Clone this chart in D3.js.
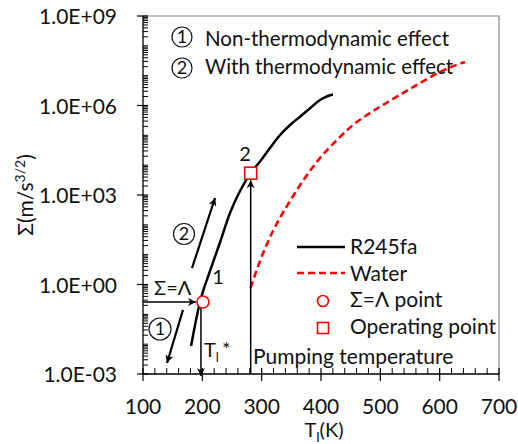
<!DOCTYPE html>
<html>
<head>
<meta charset="utf-8">
<script src="https://cdn.jsdelivr.net/npm/d3@7"></script>
<style>
  html, body { margin: 0; padding: 0; background: #fff; }
  svg text { font-family: Lato, "Open Sans", sans-serif; fill: #111; }
</style>
</head>
<body>
<svg id="chart" width="518" height="444"></svg>
<script>
// Temperature (K) and Σ (m/s^3/2) along each fluid's curve
const r245faT = [181, 196, 213, 230, 246.6, 263.5, 281.5, 297.2, 314, 331, 347.8, 364.6, 381.5, 398.3, 411.8, 420.2];
const r245faS = [8.7e-3, 0.26, 2.84, 26.6, 249, 1360, 5.4e3, 1.33e4, 3.77e4, 1.03e5, 2.22e5, 4.22e5, 8.05e5, 1.53e6, 2.08e6, 2.34e6];
const waterT = [281.2, 297.2, 319.1, 347.8, 373, 398.3, 427, 454, 482.6, 511.2, 538.2, 566.9, 595.5, 617.4, 642.7];
const waterS = [0.764, 6.14, 62.1, 630, 3715, 1.74e4, 6.98e4, 2.22e5, 5.61e5, 1.26e6, 2.62e6, 5.68e6, 1.18e7, 1.88e7, 2.87e7];

// Σ=Λ point and operating point (pumping temperature)
const lambdaPoint = { T: 196, S: 0.26 };
const operatingPoint = { T: 281.5, S: 5.4e3 };

// Axis ticks
const xTicks = [100, 200, 300, 400, 500, 600, 700];
const yTicks = [1e-3, 1e0, 1e3, 1e6, 1e9];
const yTickLabels = ["1.0E-03", "1.0E+00", "1.0E+03", "1.0E+06", "1.0E+09"];

const svg = d3.select("#chart");
const plotLeft = 143, plotRight = 499, plotTop = 16, plotBottom = 374;

const x = d3.scaleLinear().domain([100, 700]).range([plotLeft, plotRight]);
const y = d3.scaleLog().domain([1e-3, 1e9]).range([plotBottom, plotTop]);

// Arrowhead marker
const defs = svg.append("defs");
defs.append("marker")
  .attr("id", "arrow")
  .attr("viewBox", "0 0 10 10")
  .attr("refX", 10).attr("refY", 5)
  .attr("markerUnits", "userSpaceOnUse")
  .attr("markerWidth", 12).attr("markerHeight", 8)
  .attr("orient", "auto")
  .append("path").attr("d", "M0,0 L10,5 L0,10 L3,5 Z").attr("fill", "#000");

// Plot frame: light top/right edges
svg.append("path")
  .attr("d", `M${plotLeft},${plotTop} H${plotRight} V${plotBottom}`)
  .attr("fill", "none").attr("stroke", "#888").attr("stroke-width", 1.2);

// X axis
const gx = svg.append("g");
gx.append("line").attr("x1", plotLeft).attr("x2", plotRight).attr("y1", plotBottom).attr("y2", plotBottom)
  .attr("stroke", "#000").attr("stroke-width", 1.3);
const xMinor = d3.range(100, 701, 20).filter(v => v % 100 !== 0);
gx.selectAll(".xminor").data(xMinor).join("line")
  .attr("x1", d => x(d)).attr("x2", d => x(d))
  .attr("y1", plotBottom).attr("y2", plotBottom - 6)
  .attr("stroke", "#000").attr("stroke-width", 1);
gx.selectAll(".xmajor").data(xTicks).join("line")
  .attr("x1", d => x(d)).attr("x2", d => x(d))
  .attr("y1", plotBottom - 6).attr("y2", plotBottom + 7)
  .attr("stroke", "#000").attr("stroke-width", 1.2);
gx.selectAll(".xlab").data(xTicks).join("text")
  .attr("x", d => x(d)).attr("y", plotBottom + 40)
  .attr("text-anchor", "middle").attr("font-size", 21)
  .text(d => d);

// Y axis
const gy = svg.append("g");
gy.append("line").attr("x1", plotLeft).attr("x2", plotLeft).attr("y1", plotTop).attr("y2", plotBottom)
  .attr("stroke", "#000").attr("stroke-width", 1.3);
const yMinor = [];
for (let d = -3; d < 9; d++) {
  for (let k = 1; k <= 9; k++) {
    if (k === 1 && d % 3 === 0) continue;
    yMinor.push(k * Math.pow(10, d));
  }
}
gy.selectAll(".yminor").data(yMinor).join("line")
  .attr("x1", plotLeft).attr("x2", plotLeft + 5)
  .attr("y1", d => y(d)).attr("y2", d => y(d))
  .attr("stroke", "#000").attr("stroke-width", 1);
gy.selectAll(".ymajor").data(yTicks).join("line")
  .attr("x1", plotLeft - 6).attr("x2", plotLeft + 5)
  .attr("y1", d => y(d)).attr("y2", d => y(d))
  .attr("stroke", "#000").attr("stroke-width", 1.2);
gy.selectAll(".ylab").data(yTicks).join("text")
  .attr("x", plotLeft - 26).attr("y", d => y(d) + 8)
  .attr("text-anchor", "end").attr("font-size", 21)
  .text((d, i) => yTickLabels[i]);

// Axis titles
const xt = svg.append("text").attr("x", 324).attr("y", 437)
  .attr("text-anchor", "middle").attr("font-size", 20);
xt.append("tspan").text("T");
xt.append("tspan").attr("font-size", 14).attr("dy", 5).text("l");
xt.append("tspan").attr("dy", -5).text("(K)");

const yt = svg.append("text")
  .attr("transform", "translate(33,195) rotate(-90)")
  .attr("text-anchor", "middle").attr("font-size", 21);
yt.append("tspan").text("Σ(m/s");
yt.append("tspan").attr("font-size", 14).attr("dy", -8).text("3/2");
yt.append("tspan").attr("dy", 8).text(")");

// Curves
const line = d3.line()
  .x(d => x(d[0])).y(d => y(d[1]))
  .curve(d3.curveMonotoneX);

svg.append("path")
  .datum(d3.zip(waterT, waterS))
  .attr("d", line)
  .attr("fill", "none").attr("stroke", "#ff0000")
  .attr("stroke-width", 2.6).attr("stroke-dasharray", "7,4");

svg.append("path")
  .datum(d3.zip(r245faT, r245faS))
  .attr("d", line)
  .attr("fill", "none").attr("stroke", "#000")
  .attr("stroke-width", 2.5);

// Σ=Λ guide arrows
svg.append("line")
  .attr("x1", x(100)).attr("y1", y(lambdaPoint.S))
  .attr("x2", x(lambdaPoint.T) - 4).attr("y2", y(lambdaPoint.S))
  .attr("stroke", "#000").attr("stroke-width", 1.5).attr("marker-end", "url(#arrow)");
svg.append("line")
  .attr("x1", x(lambdaPoint.T) + 1).attr("y1", y(lambdaPoint.S) + 6)
  .attr("x2", x(lambdaPoint.T) + 1).attr("y2", y(1e-3) + 2)
  .attr("stroke", "#000").attr("stroke-width", 1.5).attr("marker-end", "url(#arrow)");

// Pumping temperature arrow
svg.append("line")
  .attr("x1", x(operatingPoint.T)).attr("y1", y(1e-3))
  .attr("x2", x(operatingPoint.T)).attr("y2", y(operatingPoint.S) + 7)
  .attr("stroke", "#000").attr("stroke-width", 1.5).attr("marker-end", "url(#arrow)");

// Direction arrows for the two cases
svg.append("line")
  .attr("x1", x(182.6)).attr("y1", y(Math.pow(10, 0.55)))
  .attr("x2", x(221.4)).attr("y2", y(Math.pow(10, 2.9)))
  .attr("stroke", "#000").attr("stroke-width", 2.2).attr("marker-end", "url(#arrow)");
svg.append("line")
  .attr("x1", x(167.4)).attr("y1", y(Math.pow(10, -0.85)))
  .attr("x2", x(140.5)).attr("y2", y(Math.pow(10, -2.63)))
  .attr("stroke", "#000").attr("stroke-width", 2.2).attr("marker-end", "url(#arrow)");

// Markers
svg.append("circle")
  .attr("cx", x(lambdaPoint.T) + 3).attr("cy", y(lambdaPoint.S))
  .attr("r", 6).attr("fill", "#fff").attr("stroke", "#ff0000").attr("stroke-width", 1.6);
svg.append("rect")
  .attr("x", x(operatingPoint.T) - 6).attr("y", y(operatingPoint.S) - 6)
  .attr("width", 12).attr("height", 12)
  .attr("fill", "#fff").attr("stroke", "#ff0000").attr("stroke-width", 1.6);

// Circled numbers
function circled(cx, cy, r, label, size) {
  svg.append("circle").attr("cx", cx).attr("cy", cy).attr("r", r)
    .attr("fill", "#fff").attr("stroke", "#111").attr("stroke-width", 1.2);
  svg.append("text").attr("x", cx).attr("y", cy + size * 0.36)
    .attr("text-anchor", "middle").attr("font-size", size).text(label);
}

// Annotation text
const ann = (tx, ty, s, size, anchor) => svg.append("text")
  .attr("x", tx).attr("y", ty).attr("font-size", size)
  .attr("text-anchor", anchor || "start").text(s);

circled(182, 37, 10, "1", 18);
ann(205, 46, "Non-thermodynamic effect", 20.5);
circled(182, 68, 10, "2", 18);
ann(205, 74, "With thermodynamic effect", 20.5);

circled(184, 234, 10.5, "2", 18);
circled(160, 329, 11, "1", 18);

ann(245, 161, "2", 20, "middle");
ann(218, 284, "1", 20, "middle");
ann(154, 295, "Σ=Λ", 20);

const tl = svg.append("text").attr("x", 204).attr("y", 357).attr("font-size", 20);
tl.append("tspan").text("T");
tl.append("tspan").attr("font-size", 13).attr("dy", 5).text("l");
tl.append("tspan").attr("dy", -6).attr("dx", 3).text("*");

ann(253, 364, "Pumping temperature", 21);

// Legend
const lg = svg.append("g");
lg.append("line").attr("x1", 297).attr("x2", 345).attr("y1", 247).attr("y2", 247)
  .attr("stroke", "#000").attr("stroke-width", 2.5);
lg.append("line").attr("x1", 297).attr("x2", 345).attr("y1", 273).attr("y2", 273)
  .attr("stroke", "#ff0000").attr("stroke-width", 2.6).attr("stroke-dasharray", "7,4");
lg.append("circle").attr("cx", 323).attr("cy", 301).attr("r", 5.5)
  .attr("fill", "#fff").attr("stroke", "#ff0000").attr("stroke-width", 1.6);
lg.append("rect").attr("x", 317.5).attr("y", 322.5).attr("width", 11).attr("height", 11)
  .attr("fill", "#fff").attr("stroke", "#ff0000").attr("stroke-width", 1.6);
const legendLabels = ["R245fa", "Water", "Σ=Λ point", "Operating point"];
lg.selectAll("text").data(legendLabels).join("text")
  .attr("x", 350).attr("y", (d, i) => 254 + i * 26.7)
  .attr("font-size", 21).text(d => d);
</script>
</body>
</html>
